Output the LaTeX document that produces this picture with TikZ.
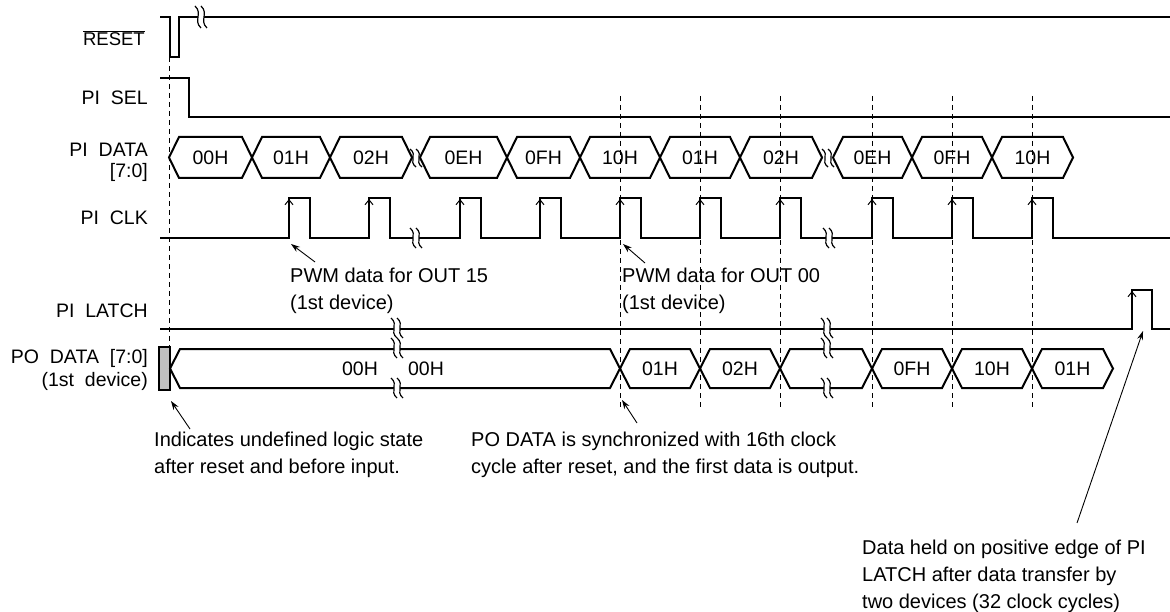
\documentclass[tikz,border=0pt]{standalone}
\usepackage{fontspec}
\setmainfont{Liberation Sans}
\usetikzlibrary{positioning,arrows.meta}

\tikzset{
	sig/.style={line width=2pt},
	guide/.style={line width=0.8pt, dash pattern=on 5pt off 4pt},
	clkarrow/.style={line width=1pt, -{Straight Barb[length=5pt,width=8pt]}},
	callout/.style={line width=0.9pt, -{Stealth[length=9pt,width=6pt]}},
	signame/.style={inner sep=0pt, align=right, font=\fontsize{19.5}{23}\selectfont},
	txt/.style={anchor=north west, inner sep=0pt, align=left, font=\fontsize{20}{27}\selectfont},
	val/.style={inner sep=0pt, font=\fontsize{19.5}{23}\selectfont},
}

% break mark: x, top, bottom
\newcommand{\cut}[3]{%
	\fill[white] ({#1-6},#2) .. controls ({#1+2},{#2+(#3-#2)/3}) and ({#1-8},{#2+2*(#3-#2)/3}) .. ({#1},#3)
		-- ({#1+6},#3) .. controls ({#1-2},{#2+2*(#3-#2)/3}) and ({#1+8},{#2+(#3-#2)/3}) .. ({#1},#2) -- cycle;
	\draw[line width=1.2pt] ({#1-6},#2) .. controls ({#1+2},{#2+(#3-#2)/3}) and ({#1-8},{#2+2*(#3-#2)/3}) .. ({#1},#3);
	\draw[line width=1.2pt] ({#1},#2) .. controls ({#1+8},{#2+(#3-#2)/3}) and ({#1-2},{#2+2*(#3-#2)/3}) .. ({#1+6},#3);
}

\begin{document}
\begin{tikzpicture}[x=1pt,y=-1pt]
	\useasboundingbox (0,0) rectangle (1170,612);

	% signal names
	\node[signame, anchor=base east, font=\fontsize{18.5}{23}\selectfont] (nrst) at (145,46) {$\overline{\mbox{RESET}}$};
	\node[signame, anchor=base east] (nsel) at (148,105) {PI\ \ SEL};
	\node[signame, anchor=east, font=\fontsize{19.5}{21}\selectfont] (ndat) at (148,162) {PI\ \ DATA\\{[7:0]}};
	\node[signame, anchor=base east] (nclk) at (148,225) {PI\ \ CLK};
	\node[signame, anchor=base east] (nlat) at (148,317) {PI\ \ LATCH};
	\node[signame, anchor=east] (npo) at (148,370) {PO\ \ DATA\ \ [7:0]\\(1st\ \ device)};

	% RESET and PI SEL
	\draw[sig] (160,17) -- (170,17) -- (170,57) -- (179,57) -- (179,17) -- (1170,17);
	\draw[sig] (160,78) -- (189,78) -- (189,117) -- (1170,117);

	% PI DATA
	\foreach \a/\b/\t [count=\i] in {169/252/00H, 252/330/01H, 330/412/02H, 420/507/0EH, 507/580/0FH,
		580/660/10H, 660/740/01H, 740/822/02H, 833/912/0EH, 912/992/0FH, 992/1073/10H}
	{
		\draw[sig] (\a,157.5) -- (\a+10,137) -- (\b-10,137) -- (\b,157.5) -- (\b-10,178) -- (\a+10,178) -- cycle;
		\node[val] (d\i) at ({(\a+\b)/2},157.5) {\t};
	}

	% PI CLK
	\draw[sig] (160,238) foreach \r in {289,369,460,540,620,700,780,872,952,1032}
		{ -- (\r,238) -- (\r,198) -- (\r+21,198) -- (\r+21,238) } -- (1170,238);
	\foreach \r in {289,369,460,540,620,700,780,872,952,1032}
		\draw[clkarrow] (\r,225) -- (\r,199);

	% PI LATCH
	\draw[sig] (160,329) -- (1132,329) -- (1132,290) -- (1152,290) -- (1152,329) -- (1170,329);
	\draw[clkarrow] (1132,315) -- (1132,291);

	% PO DATA
	\filldraw[sig, fill=black!25] (159,347) rectangle (170,390);
	\foreach \a/\b/\t [count=\i] in {170/620/{}, 620/700/01H, 700/780/02H, 780/872/{},
		872/952/0FH, 952/1032/10H, 1032/1113/01H}
	{
		\draw[sig] (\a,368.5) -- (\a+10,349) -- (\b-10,349) -- (\b,368.5) -- (\b-10,388) -- (\a+10,388) -- cycle;
		\node[val] (p\i) at ({(\a+\b)/2},368.5) {\t};
	}
	\node[val] (p00a) at (360,368.5) {00H};
	\node[val] (p00b) at (426,368.5) {00H};

	% breaks
	\cut{201}{6}{28}
	\cut{416}{149}{167}
	\cut{828}{149}{167}
	\cut{416}{228}{248}
	\cut{829}{228}{248}
	\cut{397}{318}{338}
	\cut{397}{338}{358}
	\cut{397}{378}{398}
	\cut{827}{318}{338}
	\cut{827}{338}{358}
	\cut{827}{378}{398}

	% guides
	\draw[guide] (169,57) -- (169,347);
	\foreach \x in {620,700,780,872,952,1032}
		\draw[guide] (\x,96) -- (\x,409);

	% notes
	\node[txt] (t15) at (290,268) {PWM data for OUT 15\\(1st device)};
	\node[txt] (t00) at (622,268) {PWM data for OUT 00\\(1st device)};
	\node[txt] (tund) at (154,432) {Indicates undefined logic state\\after reset and before input.};
	\node[txt] (tsync) at (471,432) {PO DATA is synchronized with 16th clock\\cycle after reset, and the first data is output.};
	\node[txt] (thold) at (862,540) {Data held on positive edge of PI\\LATCH after data transfer by\\two devices (32 clock cycles)};

	\coordinate (s15) at (315,262);  \coordinate (k15) at (291,244);
	\coordinate (s00) at (645,263);  \coordinate (k00) at (623,244);
	\coordinate (sund) at (190,429); \coordinate (kund) at (171,401);
	\coordinate (ssync) at (637,423); \coordinate (ksync) at (622,400);
	\coordinate (shold) at (1077,523); \coordinate (khold) at (1143,331);
	\draw[callout] (s15) -- (k15);
	\draw[callout] (s00) -- (k00);
	\draw[callout] (sund) -- (kund);
	\draw[callout] (ssync) -- (ksync);
	\draw[callout] (shold) -- (khold);
\end{tikzpicture}
\end{document}
